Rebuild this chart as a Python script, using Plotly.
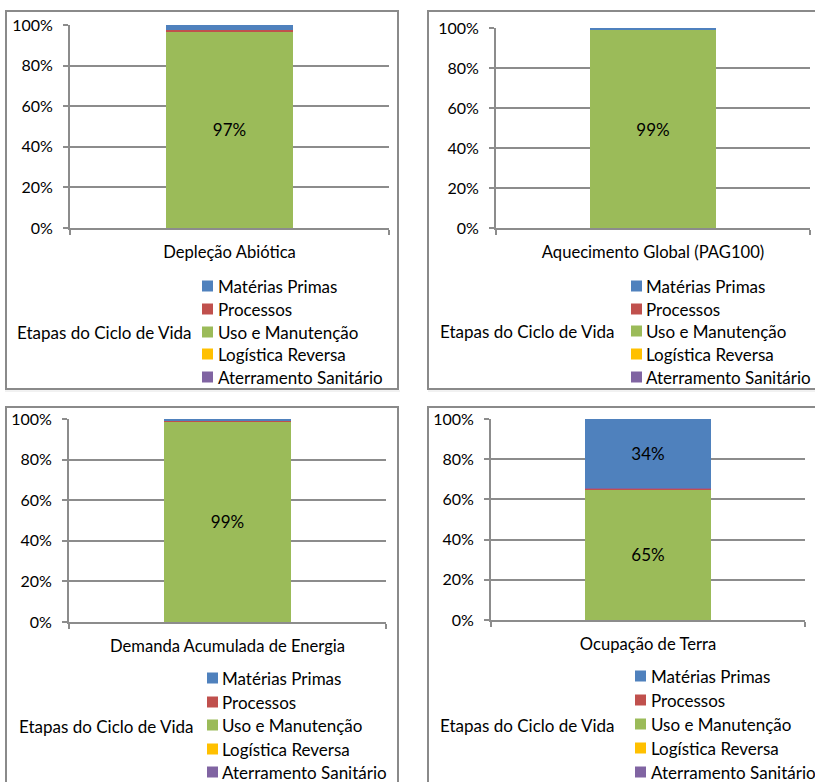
import plotly.graph_objects as go

# Life-cycle impact shares (%) per impact category
categories = [
    "Depleção Abiótica",
    "Aquecimento Global (PAG100)",
    "Demanda Acumulada de Energia",
    "Ocupação de Terra",
]
materias_primas = [2.5, 0.8, 0.9, 34.4]
processos = [0.5, 0.2, 0.1, 0.4]
uso_manutencao = [97.0, 99.0, 99.0, 65.0]
logistica_reversa = [0.0, 0.0, 0.0, 0.1]
aterramento = [0.0, 0.0, 0.0, 0.1]

series_names = ["Matérias Primas", "Processos", "Uso e Manutenção",
                "Logística Reversa", "Aterramento Sanitário"]
series_values = [materias_primas, processos, uso_manutencao,
                 logistica_reversa, aterramento]
colors = ["#4F81BD", "#C0504D", "#9BBB59", "#FFC000", "#8064A2"]
# bottom-to-top stacking order inside each column
stack_order = [2, 1, 3, 4, 0]

ytick_vals = [0, 20, 40, 60, 80, 100]
ytick_text = ["0%", "20%", "40%", "60%", "80%", "100%"]

legend_title = "Etapas do Ciclo de Vida"

W, H = 815, 782
FONT = "Lato, Carlito, Calibri, sans-serif"
GRID = "#8C8C8C"

# pixel geometry of each panel: plot area (x0, x1, ytop, ybottom),
# frame (x0, x1, y0, y1), legend key left / text left / row centres, legend title
panels = [
    dict(plot=(70, 389, 25, 228), frame=(6, 398, 11, 389),
         key_x=202, text_x=216, rows=(286, 309, 332, 354, 377), title=(15, 332)),
    dict(plot=(496, 810, 28, 228), frame=(428, 830, 11, 389),
         key_x=631, text_x=644, rows=(286, 309, 331, 354, 377), title=(438, 331)),
    dict(plot=(69, 386, 419, 622), frame=(6, 398, 407, 800),
         key_x=207, text_x=220, rows=(678, 702, 725, 749, 772), title=(17, 726)),
    dict(plot=(491, 805, 419, 620), frame=(428, 830, 407, 800),
         key_x=635, text_x=649, rows=(676, 700, 724, 748, 772), title=(438, 725)),
]
KEY = 11

fig = go.Figure()

for p, cat in enumerate(categories):
    xa = "x" if p == 0 else f"x{p + 1}"
    ya = "y" if p == 0 else f"y{p + 1}"
    for s in stack_order:
        v = series_values[s][p]
        fig.add_trace(go.Bar(
            x=[cat], y=[v], name=series_names[s],
            marker=dict(color=colors[s], line=dict(width=0)),
            text=[f"{v:.0f}%" if v >= 10 else ""],
            textposition="inside", insidetextanchor="middle",
            textfont=dict(family=FONT, size=17, color="#000000"),
            showlegend=False,
            xaxis=xa, yaxis=ya, hoverinfo="skip",
        ))

layout = dict(
    width=W, height=H, margin=dict(l=0, r=0, t=0, b=0, autoexpand=False),
    paper_bgcolor="white", plot_bgcolor="white",
    barmode="stack", bargap=0.6, showlegend=False,
    font=dict(family=FONT, size=16, color="#000000"),
    shapes=[], annotations=[],
)

for p, cfg in enumerate(panels):
    x0, x1, yt, yb = cfg["plot"]
    sfx = "" if p == 0 else str(p + 1)
    layout[f"xaxis{sfx}"] = dict(
        domain=[x0 / W, x1 / W], anchor=f"y{sfx}", automargin=False,
        type="category", range=[-0.5, 0.5],
        showline=True, linecolor=GRID, linewidth=2,
        ticks="outside", tickson="boundaries", ticklen=5, tickcolor=GRID, tickwidth=2,
        showgrid=False, ticklabelstandoff=8,
        tickfont=dict(family=FONT, size=16.6, color="#000000"),
        fixedrange=True,
    )
    layout[f"yaxis{sfx}"] = dict(
        domain=[1 - yb / H, 1 - yt / H], anchor=f"x{sfx}", automargin=False,
        range=[0, 100], tickvals=ytick_vals, ticktext=ytick_text,
        showline=True, linecolor=GRID, linewidth=2,
        ticks="outside", ticklen=5, tickcolor=GRID, tickwidth=2,
        showgrid=True, gridcolor=GRID, gridwidth=1.7, zeroline=False,
        ticklabelstandoff=7,
        tickfont=dict(family=FONT, size=16, color="#000000"),
        fixedrange=True,
    )
    fx0, fx1, fy0, fy1 = cfg["frame"]
    layout["shapes"].append(dict(
        type="rect", xref="paper", yref="paper",
        x0=fx0 / W, x1=fx1 / W, y0=1 - fy1 / H, y1=1 - fy0 / H,
        line=dict(color="#8A8A8A", width=2), fillcolor="rgba(0,0,0,0)", layer="below",
    ))
    # legend: coloured keys with series names
    for s, ry in enumerate(cfg["rows"]):
        kx = cfg["key_x"]
        layout["shapes"].append(dict(
            type="rect", xref="paper", yref="paper",
            x0=kx / W, x1=(kx + KEY) / W,
            y0=1 - (ry + KEY / 2) / H, y1=1 - (ry - KEY / 2) / H,
            line=dict(width=0), fillcolor=colors[s],
        ))
        layout["annotations"].append(dict(
            text=series_names[s], xref="paper", yref="paper",
            x=cfg["text_x"] / W, y=1 - ry / H,
            xanchor="left", yanchor="middle", showarrow=False,
            font=dict(family=FONT, size=17, color="#000000"),
        ))
    tx, ty = cfg["title"]
    layout["annotations"].append(dict(
        text=legend_title, xref="paper", yref="paper",
        x=tx / W, y=1 - ty / H,
        xanchor="left", yanchor="middle", showarrow=False,
        font=dict(family=FONT, size=17, color="#000000"),
    ))

# faint separator under the upper row of frames
for sx0, sx1 in [(5, 400), (428, 815)]:
    layout["shapes"].append(dict(
        type="line", xref="paper", yref="paper",
        x0=sx0 / W, x1=sx1 / W, y0=1 - 391 / H, y1=1 - 391 / H,
        line=dict(color="#E4E4E4", width=1),
    ))

fig.update_layout(**layout)
fig.write_html("out.html")
